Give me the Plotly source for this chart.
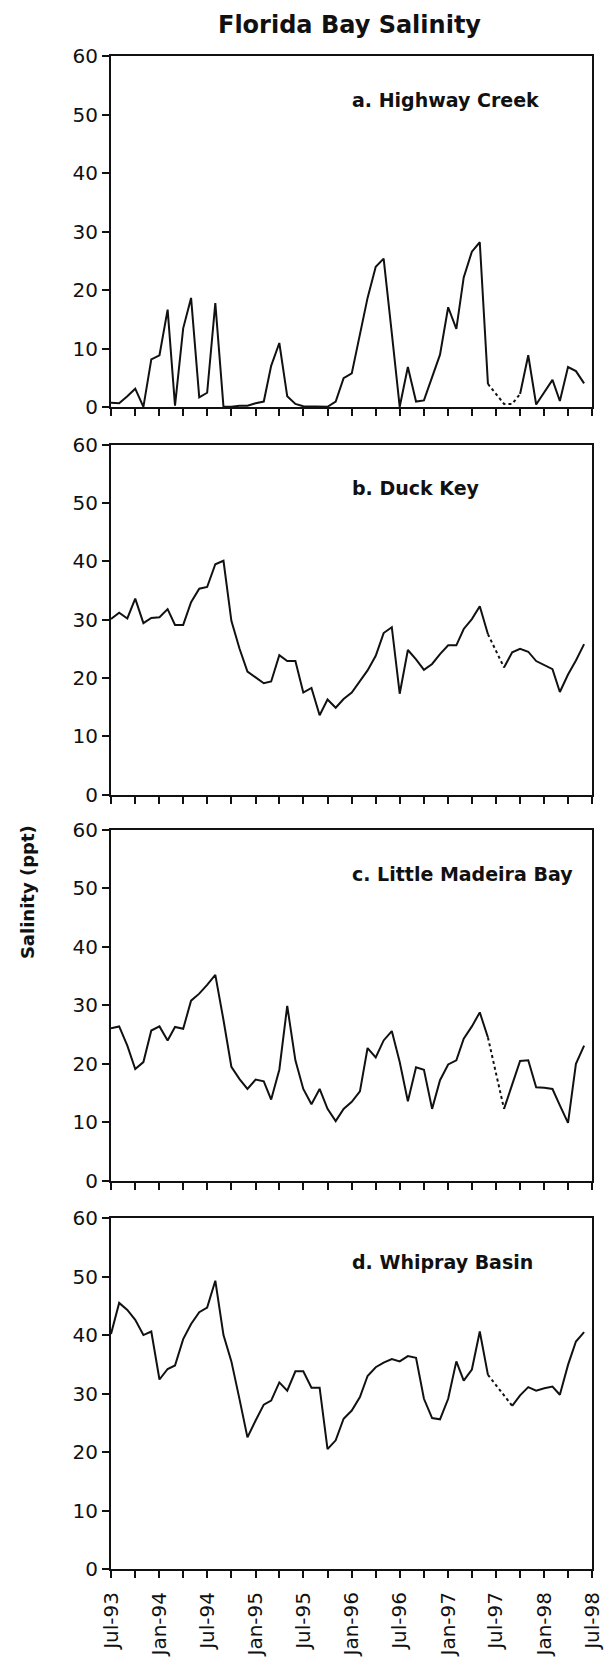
import pandas as pd
import plotly.graph_objects as go

# Monthly sampling dates (Jul-93 .. Jun-98)
MONTHS = pd.date_range("1993-07-01", periods=60, freq="MS")

# Axis ticks every quarter, labels every half-year
TICK_DATES = pd.date_range("1993-07-01", "1998-07-01", freq="3MS")
TICK_LABELS = ["Jul-93", "Jan-94", "Jul-94", "Jan-95", "Jul-95", "Jan-96",
               "Jul-96", "Jan-97", "Jul-97", "Jan-98", "Jul-98"]
Y_TICKS = [0, 10, 20, 30, 40, 50, 60]

STATIONS = ["a. Highway Creek", "b. Duck Key", "c. Little Madeira Bay", "d. Whipray Basin"]

# Salinity (ppt), one value per month
HIGHWAY_CREEK = [
    0.8, 0.7, 1.9, 3.2, 0.1, 8.2, 8.9, 16.7, 0.3, 13.5,
    18.7, 1.7, 2.5, 17.8, 0.1, 0.1, 0.3, 0.3, 0.7, 1.0,
    7.1, 11.0, 1.9, 0.6, 0.2, 0.2, 0.2, 0.1, 1.0, 5.0,
    5.8, 12.5, 18.7, 24.0, 25.4, 12.7, 0.1, 6.9, 1.0, 1.2,
    5.3, 9.0, 17.1, 13.4, 22.2, 26.6, 28.2, 4.0, 2.3, 0.6,
    0.6, 2.3, 8.9, 0.5, 2.7, 4.7, 1.1, 6.9, 6.2, 4.1,
]
DUCK_KEY = [
    30.1, 31.2, 30.2, 33.6, 29.4, 30.3, 30.4, 31.8, 29.1, 29.1,
    33.0, 35.3, 35.6, 39.5, 40.1, 29.8, 25.0, 21.1, 20.1, 19.1,
    19.4, 23.9, 22.9, 22.9, 17.5, 18.3, 13.6, 16.3, 14.9, 16.4,
    17.5, 19.5, 21.3, 23.8, 27.7, 28.7, 17.3, 24.8, 23.2, 21.4,
    22.4, 24.1, 25.6, 25.6, 28.4, 30.1, 32.3, 27.5, 24.6, 21.8,
    24.4, 25.0, 24.5, 22.9, 22.2, 21.5, 17.6, 20.6, 23.0, 25.8,
]
LITTLE_MADEIRA_BAY = [
    26.1, 26.4, 23.1, 19.1, 20.3, 25.7, 26.4, 24.0, 26.3, 26.0,
    30.8, 32.0, 33.5, 35.2, 27.5, 19.5, 17.4, 15.7, 17.3, 17.0,
    13.9, 19.0, 29.9, 20.6, 15.7, 13.1, 15.7, 12.3, 10.2, 12.3,
    13.5, 15.3, 22.7, 21.1, 24.0, 25.6, 20.3, 13.6, 19.4, 19.0,
    12.3, 17.2, 19.9, 20.6, 24.3, 26.4, 28.8, 24.5, 18.4, 12.3,
    16.5, 20.5, 20.6, 16.0, 15.9, 15.7, 12.9, 9.9, 20.0, 23.1,
]
WHIPRAY_BASIN = [
    40.2, 45.5, 44.3, 42.6, 40.0, 40.6, 32.4, 34.2, 34.8, 39.3,
    41.9, 43.9, 44.7, 49.3, 40.0, 35.5, 29.0, 22.5, 25.4, 28.1,
    28.8, 31.9, 30.5, 33.8, 33.8, 31.0, 31.0, 20.5, 22.0, 25.7,
    27.1, 29.4, 33.0, 34.5, 35.3, 35.9, 35.5, 36.4, 36.1, 29.1,
    25.8, 25.6, 29.1, 35.5, 32.2, 34.1, 40.6, 33.2, 31.5, 29.7,
    27.9, 29.7, 31.1, 30.5, 30.9, 31.2, 29.8, 34.9, 38.9, 40.5,
]
SERIES = [HIGHWAY_CREEK, DUCK_KEY, LITTLE_MADEIRA_BAY, WHIPRAY_BASIN]

# First and last month index of the dotted (estimated) stretch in each record
DOTTED_SPANS = [(47, 51), (47, 49), (47, 49), (47, 50)]

# ---- layout geometry (pixels) ----
W, H = 616, 1670
ML, MR, MT, MB = 111, 12, 56, 92
PLOT_W = W - ML - MR
PLOT_H = H - MT - MB
PANELS_PX = [(56, 409.5), (447, 799), (834.5, 1187.5), (1225, 1578)]


def fy(py):
    return (H - MB - py) / PLOT_H


def fx(px):
    return (px - ML) / PLOT_W


FONT = "DejaVu Sans"
INK = "#111111"

fig = go.Figure()
layout = {}
annotations = []

full_labels = []
for i in range(len(TICK_DATES)):
    full_labels.append(TICK_LABELS[i // 2] if i % 2 == 0 else "")

for k, (values, (s0, s1)) in enumerate(zip(SERIES, DOTTED_SPANS)):
    n = "" if k == 0 else str(k + 1)
    xa, ya = "x" + n, "y" + n

    solid = [None if s0 < i < s1 else v for i, v in enumerate(values)]
    fig.add_trace(go.Scatter(
        x=MONTHS, y=solid, mode="lines", xaxis=xa, yaxis=ya,
        line=dict(color=INK, width=2), connectgaps=False, showlegend=False,
        hoverinfo="skip"))
    fig.add_trace(go.Scatter(
        x=MONTHS[s0:s1 + 1], y=values[s0:s1 + 1], mode="lines", xaxis=xa, yaxis=ya,
        line=dict(color=INK, width=2, dash="3px,3px"), showlegend=False,
        hoverinfo="skip"))

    top, bot = PANELS_PX[k]
    last = k == len(SERIES) - 1
    layout["xaxis" + n] = dict(
        type="date", range=["1993-07-01", "1998-07-01"],
        domain=[0, 1], anchor=ya,
        tickmode="array", tickvals=TICK_DATES, ticktext=full_labels,
        showticklabels=last, tickangle=-90,
        tickfont=dict(family=FONT, size=20, color=INK),
        ticks="outside", ticklen=7, tickwidth=2, tickcolor=INK,
        showline=True, linewidth=2, linecolor=INK, mirror=True,
        showgrid=False, zeroline=False, ticklabelstandoff=6,
    )
    layout["yaxis" + n] = dict(
        range=[0, 60], domain=[fy(bot), fy(top)], anchor=xa,
        tickmode="array", tickvals=Y_TICKS,
        tickfont=dict(family=FONT, size=20, color=INK),
        ticks="outside", ticklen=7, tickwidth=2, tickcolor=INK,
        showline=True, linewidth=2, linecolor=INK, mirror=True,
        showgrid=False, zeroline=False,
    )
    annotations.append(dict(
        text="<b>" + STATIONS[k] + "</b>", xref="paper", yref="paper",
        x=fx(356), y=fy(top + 44), xanchor="left", yanchor="middle",
        showarrow=False, font=dict(family=FONT, size=19, color=INK)))

annotations.append(dict(
    text="<b>Salinity (ppt)</b>", xref="paper", yref="paper",
    x=fx(25), y=fy(897), xanchor="center", yanchor="middle", textangle=-90,
    showarrow=False, font=dict(family=FONT, size=18, color=INK)))

fig.update_layout(
    width=W, height=H,
    margin=dict(l=ML, r=MR, t=MT, b=MB),
    paper_bgcolor="white", plot_bgcolor="white",
    title=dict(text="<b>Florida Bay Salinity</b>", xref="container", yref="container",
               x=349.5 / W, y=1 - 25 / H, xanchor="center", yanchor="middle",
               font=dict(family=FONT, size=24, color=INK)),
    annotations=annotations,
    **layout,
)

fig.write_html("out.html")
